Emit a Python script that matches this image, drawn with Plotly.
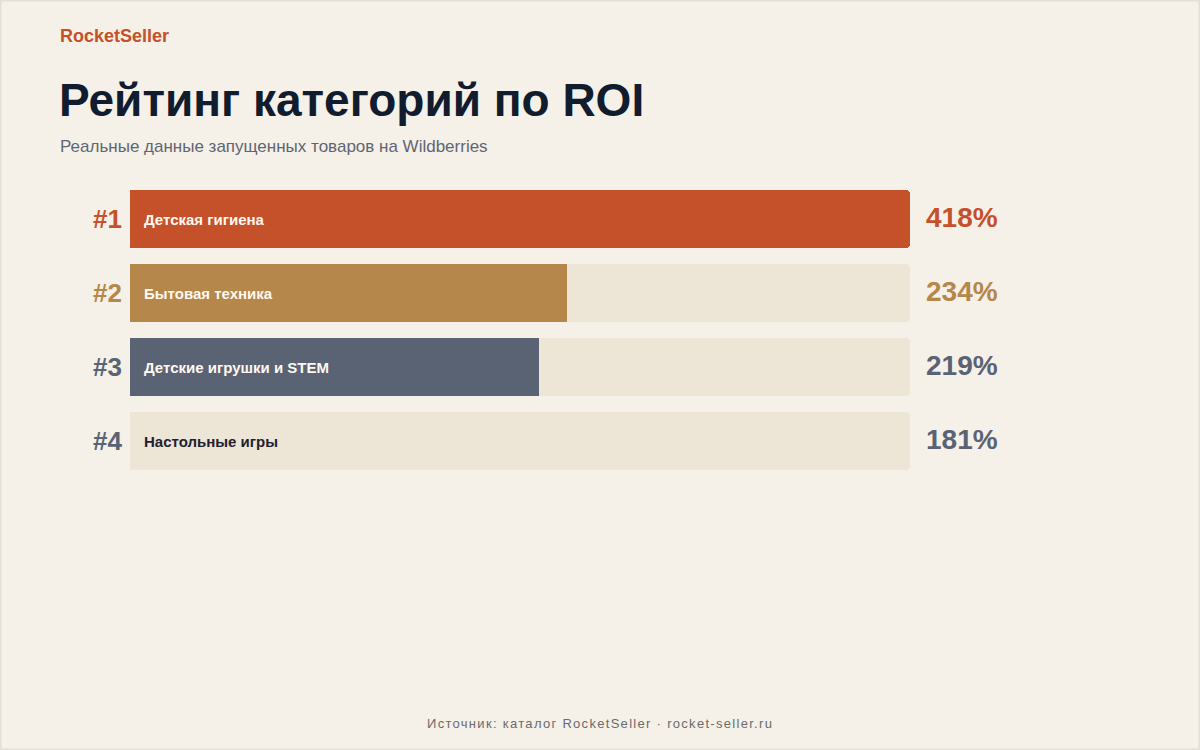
import plotly.graph_objects as go

# data
categories = ["Детская гигиена", "Бытовая техника", "Детские игрушки и STEM", "Настольные игры"]
ranks = ["#1", "#2", "#3", "#4"]
roi = [418, 234, 219, 181]
roi_labels = ["418%", "234%", "219%", "181%"]

bar_colors = ["#C5512A", "#B5874A", "#5A6374", "#EDE5D5"]
text_colors = ["#FFF8F0", "#FFF8F0", "#FFF8F0", "#1E2230"]
rank_colors = ["#C5512A", "#B5874A", "#5A6374", "#5A6374"]
track = "#EDE5D5"
bg = "#F5F0E8"
font = "Liberation Sans, Arial, sans-serif"

W, H = 1200, 750
ypos = list(range(len(categories)))
xmax = max(roi)

fig = go.Figure()
# background tracks
fig.add_trace(go.Bar(
    x=[xmax] * len(roi), y=ypos, orientation="h", width=0.784,
    marker=dict(color=track, cornerradius=4, line_width=0),
    hoverinfo="skip", showlegend=False,
))
fig.add_trace(go.Bar(
    x=roi, y=ypos, orientation="h", width=0.784,
    marker=dict(color=bar_colors, cornerradius=4, line_width=0),
    hovertemplate="%{x}%<extra></extra>", showlegend=False,
))

for i, (cat, rk, lab) in enumerate(zip(categories, ranks, roi_labels)):
    fig.add_annotation(x=0, y=i, xref="x", yref="y", text=cat, showarrow=False,
                       xanchor="left", xshift=12,
                       font=dict(family=font, size=15, color=text_colors[i], weight="bold"))
    fig.add_annotation(x=0, y=i, xref="x", yref="y", text=rk, showarrow=False,
                       xanchor="right", xshift=-6,
                       font=dict(family=font, size=26, color=rank_colors[i], weight="bold"))
    fig.add_annotation(x=xmax, y=i, xref="x", yref="y", text=lab, showarrow=False,
                       xanchor="left", xshift=14, yshift=2,
                       font=dict(family=font, size=28, color=rank_colors[i], weight="bold"))

# header and footer
fig.add_annotation(x=58 / W, y=1 - 36 / H, xref="paper", yref="paper", text="RocketSeller",
                   showarrow=False, xanchor="left", yanchor="middle",
                   font=dict(family=font, size=18, color="#C5512A", weight="bold"))
fig.add_annotation(x=57 / W, y=1 - 100 / H, xref="paper", yref="paper",
                   text="Рейтинг категорий по ROI", showarrow=False,
                   xanchor="left", yanchor="middle",
                   font=dict(family=font, size=46, color="#111C2E", weight="bold"))
fig.add_annotation(x=58 / W, y=1 - 147 / H, xref="paper", yref="paper",
                   text="Реальные данные запущенных товаров на Wildberries", showarrow=False,
                   xanchor="left", yanchor="middle",
                   font=dict(family=font, size=17, color="#5F6673"))
fig.add_annotation(x=0.5, y=1 - 723 / H, xref="paper", yref="paper",
                   text='<span style="letter-spacing:1.3px">Источник: каталог RocketSeller · rocket-seller.ru</span>',
                   showarrow=False, xanchor="center", yanchor="middle",
                   font=dict(family=font, size=13, color="#6B6B6B"))

fig.add_shape(type="rect", xref="paper", yref="paper", x0=0, x1=1, y0=0, y1=1,
              line=dict(color="#E3DED6", width=3), layer="above")

fig.update_layout(
    width=W, height=H, barmode="overlay", bargap=0,
    margin=dict(l=0, r=0, t=0, b=0),
    paper_bgcolor=bg, plot_bgcolor=bg,
    xaxis=dict(domain=[130 / W, 910 / W], range=[0, xmax], visible=False, fixedrange=True),
    yaxis=dict(domain=[1 - 478 / H, 1 - 182 / H], range=[3.5, -0.5], visible=False, fixedrange=True),
)

fig.write_html("out.html", config={"displayModeBar": False},
               post_script="document.body.style.margin='0';")
